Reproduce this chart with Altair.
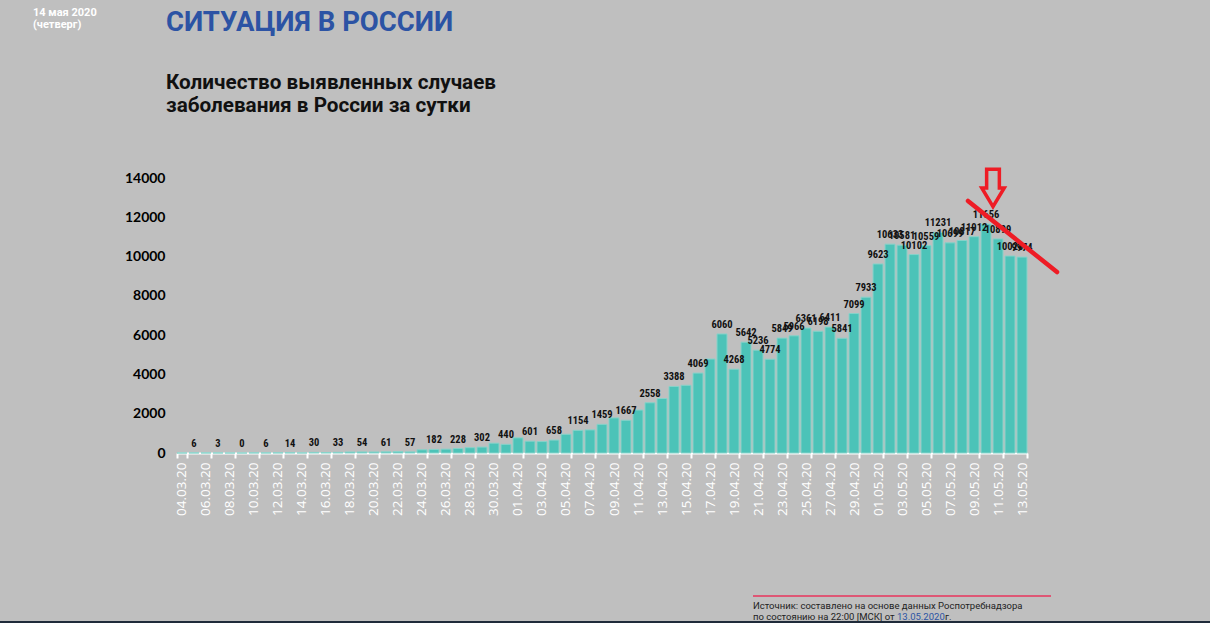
import altair as alt
import pandas as pd

# ---- data ----
dates = [d.strftime("%d.%m.%y") for d in pd.date_range("2020-03-04", "2020-05-13", freq="D")]
cases = [1, 6, 4, 3, 0, 0, 8, 6, 11, 14, 4, 30, 21, 33, 52, 54, 53, 61, 71, 57,
         163, 182, 196, 228, 270, 302, 501, 440, 771, 601, 582, 658, 954, 1154, 1175, 1459,
         1786, 1667, 2186, 2558, 2774, 3388, 3448, 4069, 4785, 6060,
         4268, 5642, 5236, 4774, 5849, 5966, 6361, 6198, 6411, 5841, 7099, 7933,
         9623, 10633, 10581, 10102, 10559, 11231, 10699, 10817, 11012, 11656, 10899, 10028, 9974]
# which bars carry a value label in the original
shown = [i % 2 == 1 or i >= 46 for i in range(len(cases))]
labels = [str(v) if s else "" for v, s in zip(cases, shown)]
tick_dates = dates[::2]
y_ticks = [0, 2000, 4000, 6000, 8000, 10000, 12000, 14000]

df = pd.DataFrame({"date": dates, "cases": cases, "label": labels})
one = pd.DataFrame({"k": [0]})

W, H = 850, 275
BG = "#BFBFBF"
NUMFONT = "Liberation Sans Narrow, Roboto Condensed, Lato"

x = alt.X("date:N", sort=dates, title=None,
          scale=alt.Scale(paddingInner=0.17, paddingOuter=0),
          axis=alt.Axis(values=tick_dates, labelAngle=270, labelColor="white",
                        labelFont="Open Sans", labelFontSize=13.5, labelPadding=4,
                        labelOverlap=False,
                        tickBand="extent", tickColor="white", tickWidth=2, tickSize=5,
                        domainColor="white", domainWidth=2, grid=False))
y = alt.Y("cases:Q", title=None,
          scale=alt.Scale(domain=[0, 14000], nice=False),
          axis=alt.Axis(values=y_ticks, tickCount=8, format="d", domain=False, ticks=False,
                        grid=False, labelOverlap=False, labelFlush=False,
                        labelFont="Lato", labelFontWeight="bold", labelFontSize=14,
                        labelColor="black", labelPadding=12))

bars = alt.Chart(df).mark_bar(color="#4CC3B8", stroke="#86D3CA", strokeWidth=1).encode(x=x, y=y)

vals = alt.Chart(df).mark_text(baseline="bottom", dy=-4, font=NUMFONT, fontWeight="bold",
                               fontSize=10.5, color="#111111").encode(
    x=x, y=y, text="label:N")


def txt(s, xx, yy, size, color, weight="bold", font="Roboto"):
    return alt.Chart(one).mark_text(text=s, align="left", baseline="alphabetic", fontSize=size,
                                    color=color, fontWeight=weight, font=font).encode(
        x=alt.value(xx), y=alt.value(yy))


ox, oy = 177, 178  # plot origin in page pixels
annots = [
    txt("14 мая 2020", 33 - ox, 16 - oy, 11, "white", "bold"),
    txt("(четверг)", 33 - ox, 28 - oy, 11, "white", "bold"),
    txt("СИТУАЦИЯ В РОССИИ", 166 - ox, 31 - oy, 27.5, "#2C53A4", "bold"),
    txt("Количество выявленных случаев", 166 - ox, 89 - oy, 20.7, "#111111", "bold"),
    txt("заболевания в России за сутки", 166 - ox, 112 - oy, 20.7, "#111111", "bold"),
    txt("Источник: составлено на основе данных Роспотребнадзора", 753 - ox, 609 - oy, 9.5, "#222222", "normal"),
    txt("по состоянию на 22:00 [МСК] от", 753 - ox, 620 - oy, 9.5, "#222222", "normal"),
    txt("13.05.2020", 897 - ox, 620 - oy, 9.5, "#2C53A4", "normal"),
    txt("г.", 945 - ox, 620 - oy, 9.5, "#222222", "normal"),
]

pink = alt.Chart(one).mark_rule(color="#E8355C", strokeWidth=1.5).encode(
    x=alt.value(753 - ox), x2=alt.value(1051 - ox), y=alt.value(596 - oy))
bottom = alt.Chart(one).mark_rule(color="#1F2B3A", strokeWidth=2).encode(
    x=alt.value(-ox), x2=alt.value(1210 - ox), y=alt.value(622 - oy))
redline = alt.Chart(one).mark_rule(color="#EE1C25", strokeWidth=4.5, strokeCap="round").encode(
    x=alt.value(968 - ox), y=alt.value(201 - oy), x2=alt.value(1057 - ox), y2=alt.value(272 - oy))
arrow_path = "M -0.34 -1 L 0.34 -1 L 0.34 0 L 0.6 0 L 0 1 L -0.6 0 L -0.34 0 Z"
arrow = alt.Chart(one).mark_point(shape=arrow_path, filled=False, stroke="#EE1C25",
                                  strokeWidth=3.5, size=1400, opacity=1).encode(
    x=alt.value(993 - ox), y=alt.value(188 - oy))

chart = alt.layer(bars, vals, *annots, pink, bottom, redline, arrow).properties(
    width=W, height=H,
    autosize=alt.AutoSizeParams(type="none"),
    padding={"left": ox, "top": oy, "right": 1210 - ox - W, "bottom": 623 - oy - H},
    background=BG,
).configure_view(stroke=None)

chart.save("out.html", embed_options={"renderer": "svg", "actions": False})
